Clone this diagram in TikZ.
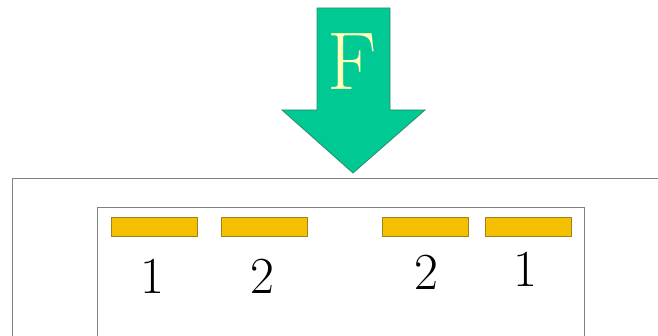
\documentclass[tikz,border=0pt]{standalone}
\usetikzlibrary{positioning}
\definecolor{arrowgreen}{HTML}{00C994}
\definecolor{arrowedge}{HTML}{2E8B6A}
\definecolor{padfill}{HTML}{F5C000}
\definecolor{padedge}{HTML}{A08020}
\definecolor{boxedge}{HTML}{808080}
\definecolor{ftext}{HTML}{FFFFB8}
\begin{document}
\begin{tikzpicture}[x=1pt,y=-1pt,
  pad/.style={draw=padedge,fill=padfill,line width=0.8pt},
  boxline/.style={draw=boxedge,line width=1pt},
  digit/.style={font=\fontsize{52}{52}\selectfont,inner sep=0pt,text=black},
]
\useasboundingbox (0,0) rectangle (658,336);
\clip (0,0) rectangle (658,336);
% force arrow
\path[fill=arrowgreen,draw=arrowedge,line width=0.8pt]
  (317,8) -- (390,8) -- (390,110) -- (425,110) -- (353,173) -- (282,110) -- (317,110) -- cycle;
\node[font=\fontsize{82}{82}\selectfont,text=ftext,inner sep=0pt] (F) at (352,62) {F};
% outer and inner frames
\draw[boxline] (12,340) -- (12,179) -- (670,179);
\draw[boxline] (97,340) -- (97,208) -- (584,208) -- (584,340);
% pads
\node[pad,minimum width=86pt,minimum height=19pt,inner sep=0pt] (p1) at (154,226.5) {};
\node[pad,minimum width=86pt,minimum height=19pt,inner sep=0pt] (p2) at (264.5,226.5) {};
\node[pad,minimum width=86pt,minimum height=19pt,inner sep=0pt] (p3) at (425,226.5) {};
\node[pad,minimum width=86pt,minimum height=19pt,inner sep=0pt] (p4) at (528,226.5) {};
% labels
\node[digit] (l1) at (152,276) {1};
\node[digit] (l2) at (262,276) {2};
\node[digit] (l3) at (426,272) {2};
\node[digit] (l4) at (525,269) {1};
\end{tikzpicture}
\end{document}
